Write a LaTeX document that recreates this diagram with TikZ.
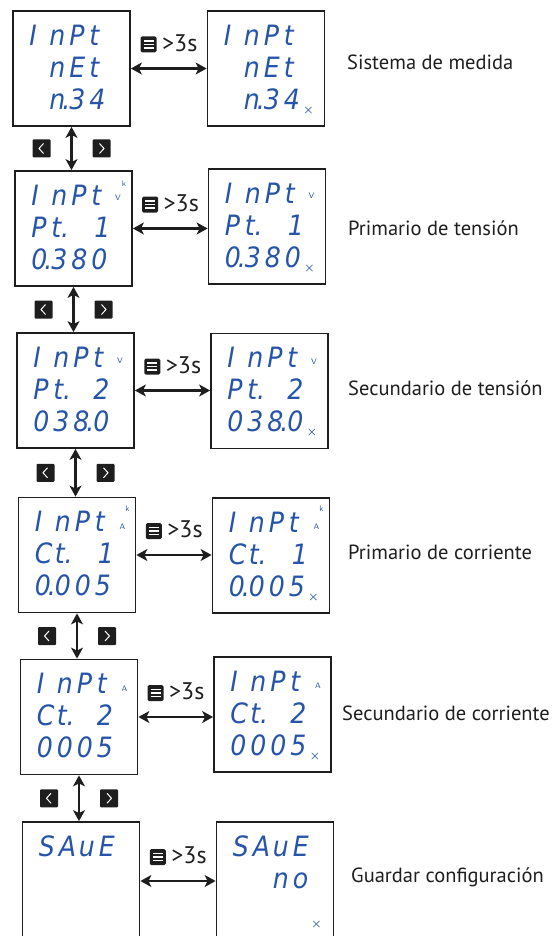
\documentclass[tikz,border=0pt]{standalone}
\usepackage{fontspec}
\setmainfont{PT Sans}
\newfontfamily\lcdfont{DejaVu Sans Condensed}
\usetikzlibrary{positioning,arrows.meta,calc}
\definecolor{lcdblue}{RGB}{38,84,168}
\definecolor{ink}{RGB}{30,30,30}

% one row of display cells: box, row number, cell contents
\newcommand\lcdrow[3]{%
  \foreach \c [count=\i] in {#3}
    \path (#1.north west) ++({17+20*(\i-1)},{35+32*(#2-1)}) node[lcd] {\c};}
\newcommand\segone{\makebox[19pt][r]{1}}
\newcommand\dt{\kern-3pt.}

\tikzset{
  panel/.style={draw=ink, line width=1.8pt, minimum width=117pt, minimum height=115pt, inner sep=0pt},
  lcd/.style={text=lcdblue, font={\lcdfont\itshape\fontsize{28}{30}\selectfont}, anchor=base west, inner sep=0pt},
  unit/.style={text=lcdblue, font={\sffamily\fontsize{8}{8}\selectfont}, inner sep=0pt},
  okmark/.style={text=lcdblue, font={\fontsize{12}{12}\selectfont\boldmath}, inner sep=0pt},
  caption/.style={font={\fontsize{20.5}{24}\selectfont}, text=ink, anchor=base west, inner sep=0pt},
  keylabel/.style={font={\fontsize{24}{26}\selectfont}, text=ink, inner sep=0pt},
  link/.style={<->, line width=2.2pt, draw=ink},
  menukey/.pic={\fill[ink, rounded corners=1.5pt] (-8,-8) rectangle (8,8);
    \foreach \dy in {-3.5,0,3.5} \draw[white, line width=1.3pt] (-5,\dy) -- (5,\dy);},
  prevkey/.pic={\fill[ink, rounded corners=1pt] (-9,-9) rectangle (9,9);
    \draw[white, line width=1pt] (2,-5) -- (-2.5,0) -- (2,5);},
  nextkey/.pic={\fill[ink, rounded corners=1pt] (-9,-9) rectangle (9,9);
    \draw[white, line width=1pt] (-2,-5) -- (2.5,0) -- (-2,5);},
}

\begin{document}
\begin{tikzpicture}[x=1pt,y=-1pt,>={Stealth[length=11pt,width=12pt,inset=3pt]}]
\useasboundingbox (0,0) rectangle (557,936);

% displays, left column
\node[panel] (meas)  at (71.5,68.5) {};
\node[panel] (ptpri) at (73.5,228.5) {};
\node[panel] (ptsec) at (75.5,390.5) {};
\node[panel] (ctpri) at (77,555) {};
\node[panel] (ctsec) at (79,717) {};
\node[panel, minimum height=118pt] (save) at (81,881) {};
% displays, right column
\node[panel] (measok)  at (266,68.5) {};
\node[panel] (ptpriok) at (267,226.5) {};
\node[panel] (ptsecok) at (269.5,391) {};
\node[panel] (ctpriok) at (271,555.5) {};
\node[panel] (ctsecok) at (272.5,714.5) {};
\node[panel, minimum height=118pt] (saveok) at (275,881) {};

% display contents
\foreach \b in {meas,measok}{
  \lcdrow{\b}{1}{I,n,P,t} \lcdrow{\b}{2}{,n,E,t} \lcdrow{\b}{3}{,n\dt,3,4}}
\foreach \b in {ptpri,ptpriok}{
  \lcdrow{\b}{1}{I,n,P,t} \lcdrow{\b}{2}{P,t.,,\segone} \lcdrow{\b}{3}{0\dt,3,8,0}
  \node[unit] at ([xshift=-15pt,yshift=-28pt]\b.north east) {V};}
\foreach \b in {ptsec,ptsecok}{
  \lcdrow{\b}{1}{I,n,P,t} \lcdrow{\b}{2}{P,t.,,2} \lcdrow{\b}{3}{0,3,8\dt,0}
  \node[unit] at ([xshift=-15pt,yshift=-29pt]\b.north east) {V};}
\foreach \b in {ctpri,ctpriok}{
  \lcdrow{\b}{1}{I,n,P,t} \lcdrow{\b}{2}{C,t.,,\segone} \lcdrow{\b}{3}{0\dt,0,0,5}
  \node[unit] at ([xshift=-9pt,yshift=-12pt]\b.north east) {k};
  \node[unit] at ([xshift=-14pt,yshift=-30pt]\b.north east) {A};}
\foreach \b in {ctsec,ctsecok}{
  \lcdrow{\b}{1}{I,n,P,t} \lcdrow{\b}{2}{C,t.,,2} \lcdrow{\b}{3}{0,0,0,5}
  \node[unit] at ([xshift=-14pt,yshift=-30pt]\b.north east) {A};}
\node[unit] at ([xshift=-9pt,yshift=-14pt]ptpri.north east) {k};
\lcdrow{save}{1}{S,A,u,E}
\lcdrow{saveok}{1}{S,A,u,E} \lcdrow{saveok}{2}{,,n,o}

% confirmation marks
\foreach \b in {measok,ptpriok,ptsecok,ctpriok,ctsecok}
  \node[okmark] at ([xshift=-17pt,yshift=-100pt]\b.north east) {$\times$};
\node[okmark] at ([xshift=-18pt,yshift=-103pt]saveok.north east) {$\times$};

% menu key > 3 s
\foreach \a/\b in {meas/measok,ptpri/ptpriok,ptsec/ptsecok,ctpri/ctpriok,ctsec/ctsecok,save/saveok}{
  \draw[link] (\a.east) -- (\b.west |- \a.east)
    node[midway, above=16pt, xshift=11pt, keylabel] (\a key) {>3s};
  \pic at ([xshift=-12.5pt,yshift=8pt]\a key.south west) {menukey};}

% scroll keys
\foreach \a/\b in {meas/ptpri,ptpri/ptsec,ptsec/ctpri,ctpri/ctsec,ctsec/save}{
  \draw[link] (\a.south) -- (\a.south |- \b.north) coordinate[midway] (\a mid);
  \pic at ([xshift=-30pt]\a mid) {prevkey};
  \pic at ([xshift=30pt]\a mid) {nextkey};}

% captions
\node[caption] (cmeas)  at (347,70)  {Sistema de medida};
\node[caption] (cptpri) at (348,235) {Primario de tensión};
\node[caption] (cptsec) at (348,395) {Secundario de tensión};
\node[caption] (cctpri) at (348,559) {Primario de corriente};
\node[caption] (cctsec) at (342,720) {Secundario de corriente};
\node[caption] (csave)  at (351,882) {Guardar configuración};
\end{tikzpicture}
\end{document}
